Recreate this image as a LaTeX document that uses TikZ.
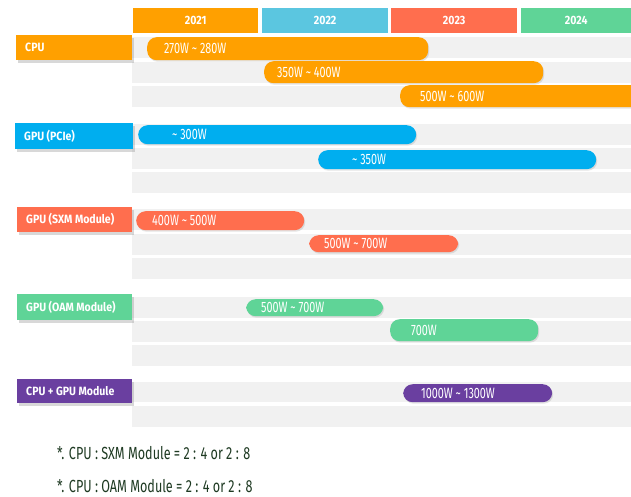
\documentclass[tikz,border=0pt]{standalone}
\usepackage{fontspec}
\setmainfont{Fira Sans}
\newfontfamily\condfont[FakeStretch=0.72]{Fira Sans}
\newfontfamily\lblfont[FakeStretch=0.88]{Fira Sans}
\usetikzlibrary{shadows}
\definecolor{cpuC}{HTML}{FFA000}
\definecolor{hdrB}{HTML}{5BC6E0}
\definecolor{pcieC}{HTML}{00AEEF}
\definecolor{sxmC}{HTML}{FF6E4E}
\definecolor{oamC}{HTML}{5FD497}
\definecolor{purC}{HTML}{6A3FA0}
\definecolor{stripeC}{HTML}{F1F1F1}
\definecolor{noteC}{HTML}{1E3A22}
\tikzset{
  stripe/.style={fill=stripeC, draw=none},
  hdr/.style={inner sep=0pt, anchor=north west, text=white, font=\lblfont\bfseries\fontsize{12}{14}\selectfont},
  barbox/.style={inner sep=0pt, rounded corners=9.5pt, draw=none,
    drop shadow={shadow xshift=1pt, shadow yshift=-1.5pt, opacity=0.22}},
  bartxt/.style={inner sep=0pt, text=white, font=\condfont\fontsize{15}{17}\selectfont},
  lblbox/.style={inner sep=0pt, draw=none, anchor=north west,
    drop shadow={shadow xshift=2pt, shadow yshift=-2.5pt, opacity=0.3}},
  lbltxt/.style={inner sep=0pt, anchor=west, text=white, font=\lblfont\bfseries\fontsize{12}{14}\selectfont},
  note/.style={inner sep=0pt, anchor=west, text=noteC, font=\condfont\fontsize{17.5}{20}\selectfont}
}
\newcommand\mkbar[8]{%
  \node[barbox, fill=#2, minimum width={#5-#3}, minimum height={#6-#4}, anchor=north west] (#1) at (#3,#4) {};
  \node[bartxt, anchor=west] (#1t) at ([xshift=#7pt]#1.west) {#8};}
\newcommand\mklbl[7]{%
  \node[lblbox, fill=#2, minimum width={#5-#3}, minimum height={#6-#4}] (#1) at (#3,#4) {};
  \node[lbltxt] (#1t) at ([xshift=9pt]#1.west) {#7};}
\begin{document}
\begin{tikzpicture}[x=1pt,y=-1pt]
\useasboundingbox[fill=white] (0,0) rectangle (631,496);
% header
\node[hdr, fill=cpuC, minimum width=125, minimum height=25] (h1) at (133,8) {2021};
\node[hdr, fill=hdrB, minimum width=126, minimum height=25] (h2) at (262,8) {2022};
\node[hdr, fill=sxmC, minimum width=126, minimum height=25] (h3) at (391,8) {2023};
\node[hdr, fill=oamC, minimum width=110, minimum height=25] (h4) at (521,8) {2024};
% stripes
\foreach \a/\b in {37/58, 62/83, 86/107, 124/145, 148/169, 172/193, 209/230, 234/255, 258/279, 297/318, 321/342, 345/366, 382/402, 406/427}
  \fill[stripe] (132,\a) rectangle (631,\b);
% labels
\mklbl{lcpu}{cpuC}{16}{35}{132}{60}{CPU}
\mklbl{lpcie}{pcieC}{15}{123}{133}{149}{GPU (PCIe)}
\mklbl{lsxm}{sxmC}{17}{207}{132}{232}{GPU (SXM Module)}
\mklbl{loam}{oamC}{17}{294}{132}{320}{GPU (OAM Module)}
\mklbl{lcg}{purC}{17}{379}{132}{403}{CPU + GPU Module}
% bars
\mkbar{c1}{cpuC}{147}{37}{428}{60}{17}{270W \textasciitilde{} 280W}
\mkbar{c2}{cpuC}{264}{61}{543}{83}{13}{350W \textasciitilde{} 400W}
\mkbar{c3}{cpuC}{400}{85}{660}{107}{20}{500W \textasciitilde{} 600W}
\mkbar{p1}{pcieC}{138}{125}{416}{144}{34}{\textasciitilde{} 300W}
\mkbar{p2}{pcieC}{318}{150}{596}{169}{34}{\textasciitilde{} 350W}
\mkbar{s1}{sxmC}{136}{211}{304}{230}{16}{400W \textasciitilde{} 500W}
\mkbar{s2}{sxmC}{309}{235}{458}{252}{15}{500W \textasciitilde{} 700W}
\mkbar{o1}{oamC}{246}{299}{383}{316}{15}{500W \textasciitilde{} 700W}
\mkbar{o2}{oamC}{390}{319}{538}{341}{21}{700W}
\mkbar{g1}{purC}{403}{384}{552}{402}{18}{1000W \textasciitilde{} 1300W}
% notes
\node[note] (n1) at (57,453) {*. CPU : SXM Module = 2 : 4 or 2 : 8};
\node[note] (n2) at (57,486) {*. CPU : OAM Module = 2 : 4 or 2 : 8};
\end{tikzpicture}
\end{document}
